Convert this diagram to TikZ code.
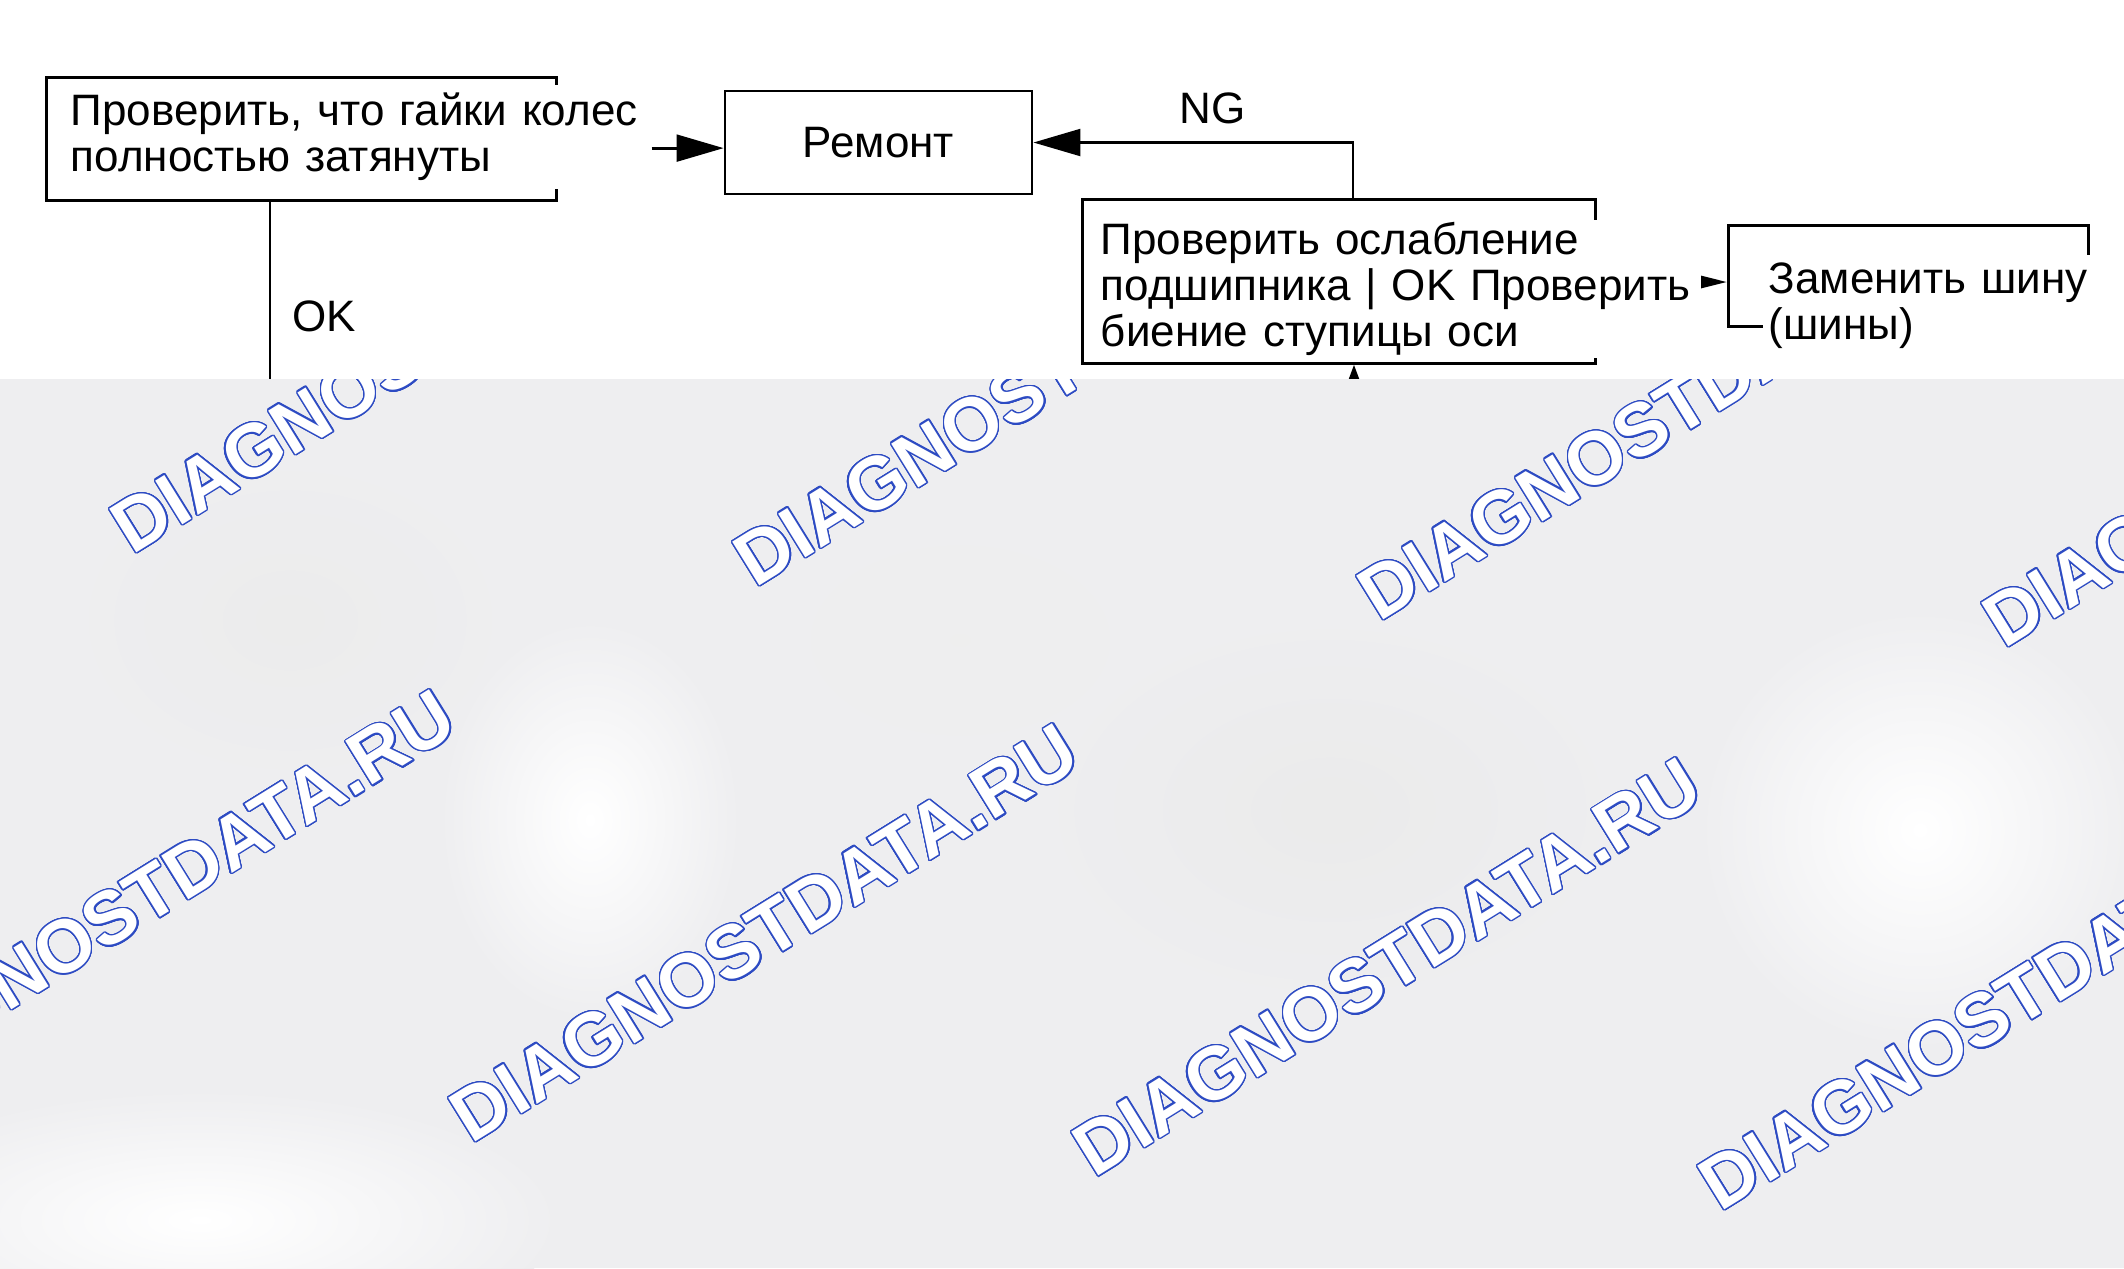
\documentclass[tikz,border=0pt]{standalone}
\usepackage{fontspec}
\setmainfont{Liberation Sans}
\usepackage{xcolor}
\usepackage{contour}
\usetikzlibrary{arrows.meta}

\definecolor{bandgray}{RGB}{238,238,240}
\definecolor{wmblue}{RGB}{45,75,195}
\contourlength{0.35pt}
\contournumber{24}

\begin{document}
\begin{tikzpicture}[x=0.25pt, y=-0.25pt,
    font=\fontsize{11pt}{11.6pt}\selectfont,
    box/.style={draw, line width=0.7pt, inner sep=0pt},
    txt/.style={fill=white, inner xsep=1.5pt, inner ysep=2pt, align=left, anchor=north west},
    arr/.style={-{Triangle[length=11.75pt,width=6.7pt]}, line width=0.7pt},
    arrs/.style={-{Triangle[length=6.5pt,width=3pt]}, line width=0.7pt},
    arrup/.style={-{Triangle[length=9pt,width=6.5pt]}, line width=0.7pt},
    wm/.style={anchor=base west, rotate=31.8, inner sep=0pt, text=white,
      font=\fontsize{18.7pt}{20pt}\selectfont\bfseries}]

  \useasboundingbox (0,0) rectangle (2124,1268);
  \fill[white] (0,0) rectangle (2124,1268);

  % Wheel nuts check
  \node[box, anchor=north west, minimum width=127.5pt, minimum height=30.75pt] (nuts) at (45,76) {};
  \node[txt, text width=143.5pt] (nutstxt) at (64,84) {Проверить, что гайки колес\\полностью затянуты};

  % Repair
  \node[box, minimum width=76.75pt, minimum height=25.75pt] (repair) at (878.5,142.5) {Ремонт};
  \draw[arr] ([yshift=-1.4pt]nutstxt.east |- repair.west) -- ([yshift=-1.4pt]repair.west);

  % Bearing play / hub runout
  \node[box, anchor=north west, minimum width=128.25pt, minimum height=41pt] (bearing) at (1081,198) {};
  \node[txt, inner ysep=0.5pt, text width=148.5pt] (bearingtxt) at (1094,219) {Проверить ослабление\\подшипника | OK Проверить\\биение ступицы оси};
  \draw[arr] ([xshift=3.5pt]bearing.north) |- (repair.east) node[pos=0.72, above=1pt] {NG};

  % Replace tyre
  \node[box, anchor=north west, minimum width=90pt, minimum height=25.25pt] (tyre) at (1727,224) {};
  \node[txt, text width=81pt] (tyretxt) at (1762,254) {Заменить шину\\(шины)};
  \draw[arrs] (bearingtxt.east |- 0,282) -- (tyre.west |- 0,282);

  % Lines running into the shaded part
  \coordinate (okdown) at (270,430);
  \coordinate (loopin) at (1354,440);
  \draw[line width=0.7pt] (okdown |- nuts.south) -- (okdown) node[pos=0.5, right=2pt] {OK};
  \draw[arrup] (loopin) -- (loopin |- bearing.south);

  % Shaded band with watermarks
  \begin{scope}
    \clip (0,379) rectangle (2124,1268);
    \fill[bandgray] (0,379) rectangle (2124,1268);
    \shade[inner color=gray!15, outer color=bandgray] (290,620) ellipse (230 and 170);
    \shade[inner color=gray!13, outer color=bandgray] (960,640) ellipse (220 and 140);
    \shade[inner color=gray!16, outer color=bandgray] (1330,810) ellipse (300 and 200);
    \shade[inner color=white, outer color=bandgray] (590,820) ellipse (150 and 200);
    \shade[inner color=white, outer color=bandgray] (1920,830) ellipse (220 and 220);
    \shade[inner color=white, outer color=bandgray] (200,1220) ellipse (360 and 130);
    \foreach \x/\y in {132/556, 755/589, 1379/623, 2004/650, -152/1111, 471/1145, 1094/1179, 1720/1213}
      \node[wm] at (\x,\y) {\contour{wmblue}{DIAGNOSTDATA.RU}};
  \end{scope}

\end{tikzpicture}
\end{document}
